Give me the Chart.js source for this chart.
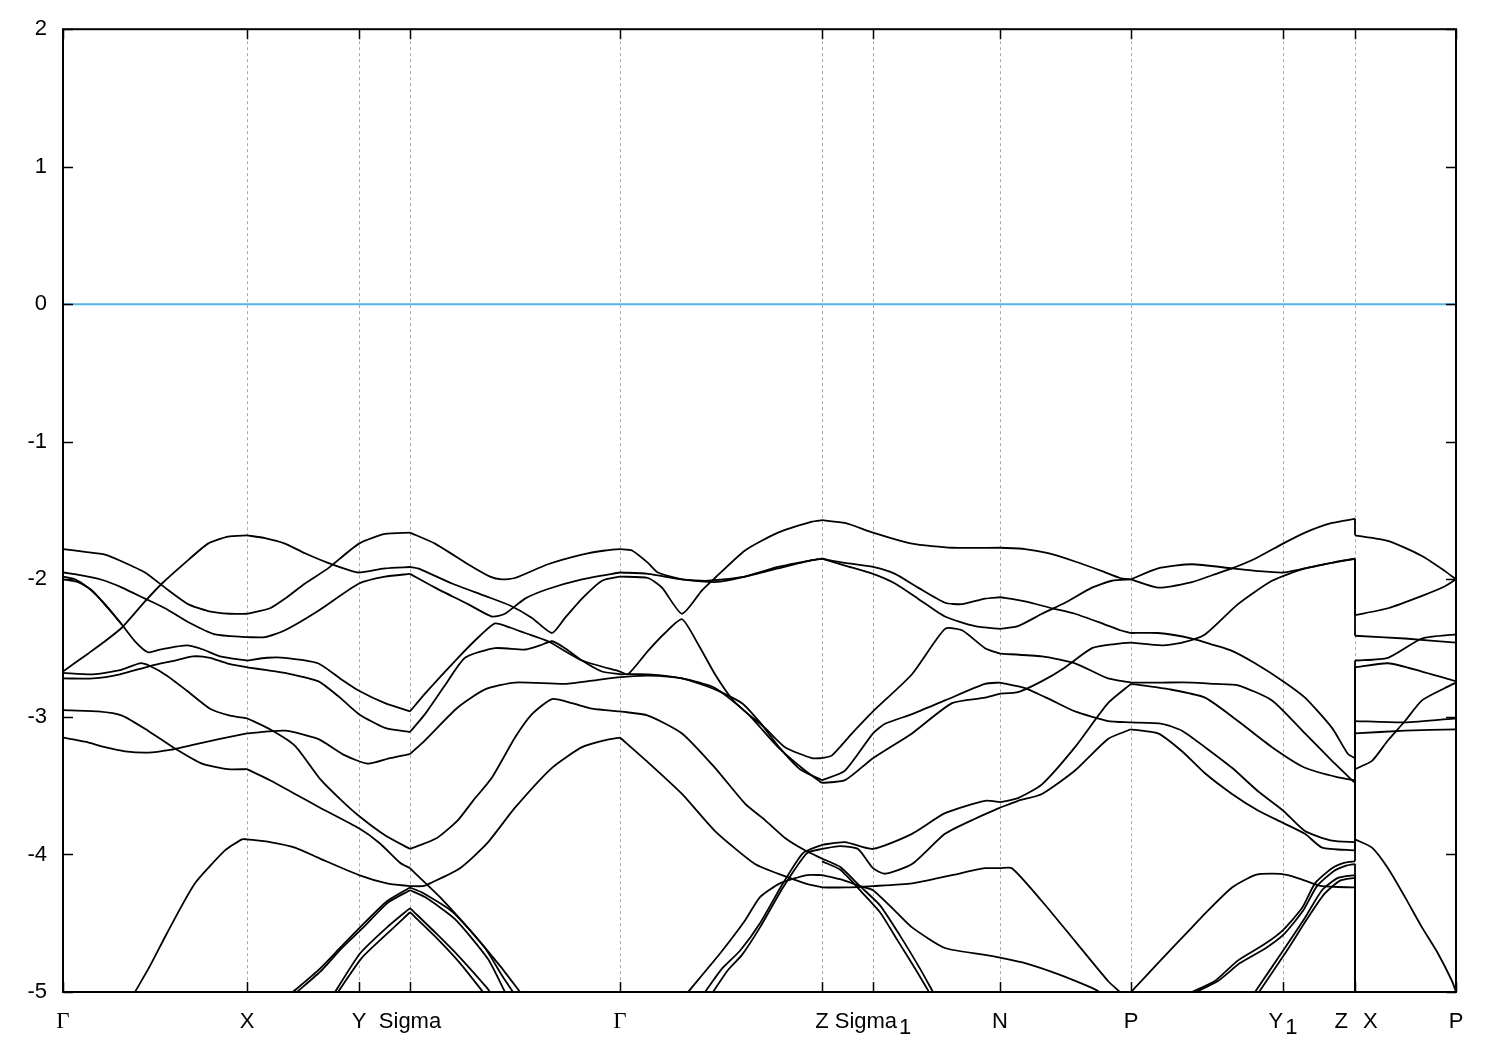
<!DOCTYPE html>
<html>
<head>
<meta charset="utf-8">
<script src="https://cdn.jsdelivr.net/npm/chart.js@4.4.0/dist/chart.umd.min.js"></script>
<style>
  html, body { margin: 0; padding: 0; background: #fff; }
  canvas { display: block; }
</style>
</head>
<body>
<canvas id="bands" width="1500" height="1050"></canvas>
<script>
// k-path (distance along the path) and its high-symmetry labels
const kPos = [0, 184, 296, 347, 557, 759, 810, 937, 1068, 1220, 1292, 1393];
const kLabels = ["Γ", "X", "Y", "Sigma", "Γ", "Z", "Sigma_1", "N", "P", "Y_1", "Z|X", "P"];
const yTicks = [2, 1, 0, -1, -2, -3, -4, -5];
const fermiLevel = 0;

// bands, one list per path segment, points are [k, E (eV)]
const gammaX = [
  [[0,-1.78],[22,-1.80],[42,-1.82],[59,-1.87],[82,-1.95],[102,-2.06],[125,-2.18],[145,-2.23],[167,-2.25],[184,-2.25]],
  [[0,-2.67],[25,-2.54],[42,-2.45],[59,-2.35],[82,-2.16],[99,-2.03],[122,-1.88],[145,-1.74],[165,-1.69],[184,-1.68]],
  [[0,-1.95],[25,-1.98],[42,-2.01],[59,-2.06],[82,-2.14],[102,-2.21],[125,-2.31],[152,-2.40],[184,-2.42]],
  [[0,-1.98],[12,-2.00],[25,-2.06],[42,-2.18],[59,-2.33],[72,-2.45],[85,-2.53],[97,-2.51],[124,-2.48],[140,-2.51],[157,-2.56],[184,-2.59]],
  [[0,-2.00],[15,-2.02],[29,-2.08],[45,-2.21],[59,-2.33]],
  [[0,-2.68],[30,-2.69],[57,-2.66],[77,-2.61],[87,-2.63],[104,-2.70],[124,-2.81],[147,-2.94],[167,-2.99],[184,-3.01]],
  [[0,-2.72],[30,-2.72],[57,-2.69],[87,-2.63],[112,-2.59],[130,-2.56],[147,-2.57],[164,-2.61],[184,-2.64]],
  [[0,-2.95],[35,-2.96],[59,-2.99],[85,-3.10],[112,-3.23],[139,-3.34],[165,-3.38],[184,-3.38]],
  [[0,-3.15],[22,-3.18],[42,-3.22],[62,-3.25],[85,-3.26],[107,-3.24],[132,-3.20],[157,-3.16],[184,-3.12]],
  [[72,-5.0],[87,-4.81],[102,-4.60],[119,-4.37],[132,-4.21],[145,-4.10],[162,-3.97],[179,-3.89],[184,-3.89]]
];

const xSigma = [
  [[184,-2.25],[207,-2.21],[222,-2.14],[242,-2.03],[265,-1.92],[296,-1.74],[322,-1.67],[347,-1.66]],
  [[184,-1.68],[202,-1.70],[222,-1.74],[242,-1.81],[265,-1.88],[289,-1.94],[296,-1.95],[322,-1.92],[347,-1.91]],
  [[184,-2.42],[202,-2.42],[222,-2.37],[255,-2.23],[296,-2.03],[322,-1.98],[347,-1.96]],
  [[184,-2.59],[204,-2.57],[222,-2.57],[255,-2.61],[277,-2.72],[296,-2.81],[322,-2.90],[347,-2.96]],
  [[184,-2.64],[204,-2.66],[222,-2.68],[255,-2.74],[277,-2.86],[296,-2.98],[322,-3.08],[347,-3.11]],
  [[184,-3.12],[222,-3.10],[255,-3.16],[282,-3.28],[305,-3.34],[327,-3.30],[347,-3.27]],
  [[184,-3.01],[207,-3.09],[232,-3.21],[257,-3.45],[279,-3.61],[296,-3.72],[322,-3.86],[347,-3.96]],
  [[184,-3.38],[207,-3.46],[232,-3.56],[257,-3.66],[296,-3.81],[317,-3.92],[337,-4.06],[347,-4.10]],
  [[184,-3.89],[207,-3.91],[232,-3.95],[257,-4.03],[296,-4.15],[324,-4.21],[347,-4.23]],
  [[230,-5.0],[257,-4.83],[277,-4.68],[297,-4.53],[324,-4.34],[347,-4.24]],
  [[234,-5.0],[259,-4.84],[279,-4.68],[299,-4.54],[325,-4.35],[347,-4.26]],
  [[272,-5.0],[297,-4.72],[324,-4.53],[347,-4.39]],
  [[275,-5.0],[299,-4.75],[325,-4.57],[347,-4.42]]
];

const sigmaGamma = [
  [[347,-1.66],[372,-1.74],[405,-1.89],[427,-1.98],[439,-2.00],[452,-1.99],[485,-1.89],[519,-1.82],[542,-1.79],[557,-1.78]],
  [[347,-1.91],[355,-1.92],[389,-2.03],[422,-2.12],[447,-2.19],[469,-2.28],[489,-2.39],[502,-2.28],[519,-2.14],[539,-2.01],[557,-1.98]],
  [[347,-1.96],[372,-2.06],[405,-2.18],[429,-2.27],[442,-2.25],[462,-2.14],[485,-2.07],[519,-2.00],[557,-1.95]],
  [[347,-2.96],[362,-2.83],[395,-2.57],[417,-2.41],[432,-2.32],[447,-2.35],[462,-2.39],[485,-2.45],[519,-2.59],[557,-2.67]],
  [[347,-3.11],[362,-2.98],[382,-2.77],[402,-2.57],[432,-2.50],[462,-2.51],[477,-2.48],[489,-2.45],[502,-2.50],[519,-2.59],[539,-2.67],[557,-2.69]],
  [[347,-3.27],[362,-3.17],[395,-2.93],[422,-2.80],[452,-2.75],[502,-2.76],[535,-2.73],[557,-2.71]],
  [[347,-3.96],[374,-3.88],[395,-3.75],[410,-3.61],[429,-3.44],[452,-3.15],[469,-2.98],[489,-2.87],[509,-2.90],[529,-2.94],[557,-2.96]],
  [[347,-4.23],[360,-4.23],[367,-4.21],[397,-4.10],[424,-3.92],[452,-3.66],[489,-3.37],[519,-3.22],[542,-3.17],[557,-3.15]],
  [[347,-4.10],[357,-4.17],[377,-4.31],[407,-4.55],[437,-4.81],[457,-5.0]],
  [[347,-4.24],[360,-4.28],[390,-4.42],[422,-4.68],[439,-4.88],[450,-5.0]],
  [[347,-4.26],[362,-4.31],[392,-4.47],[425,-4.76],[442,-5.0]],
  [[347,-4.39],[374,-4.58],[397,-4.75],[424,-4.97],[427,-5.0]],
  [[347,-4.42],[374,-4.61],[397,-4.79],[420,-5.0]]
];

const gammaZ = [
  [[557,-1.98],[585,-1.99],[599,-2.06],[619,-2.25],[639,-2.08],[652,-1.99],[682,-1.79],[715,-1.66],[749,-1.58],[759,-1.57]],
  [[557,-1.78],[569,-1.79],[585,-1.88],[595,-1.95],[619,-2.00],[645,-2.01],[682,-1.98],[715,-1.92],[749,-1.86],[759,-1.85]],
  [[557,-1.95],[585,-1.96],[619,-2.00],[652,-2.02],[682,-1.98],[715,-1.91],[749,-1.86],[759,-1.85]],
  [[557,-2.67],[565,-2.69],[585,-2.52],[602,-2.39],[619,-2.29],[635,-2.47],[652,-2.69],[669,-2.87],[682,-2.96],[702,-3.08],[722,-3.22],[749,-3.30],[759,-3.30]],
  [[557,-2.69],[585,-2.69],[619,-2.72],[652,-2.80],[679,-2.90],[697,-3.04],[715,-3.21],[737,-3.38],[759,-3.46]],
  [[557,-2.71],[585,-2.70],[619,-2.72],[652,-2.79],[685,-2.98],[715,-3.22],[742,-3.39],[759,-3.48]],
  [[557,-2.96],[585,-2.99],[619,-3.12],[652,-3.37],[682,-3.63],[702,-3.75],[722,-3.88],[742,-3.97],[759,-4.03]],
  [[557,-3.15],[585,-3.33],[619,-3.56],[652,-3.83],[692,-4.07],[715,-4.14],[742,-4.21],[759,-4.24]],
  [[625,-5.0],[657,-4.72],[682,-4.48],[697,-4.31],[717,-4.21],[744,-4.15],[759,-4.15]],
  [[642,-5.0],[659,-4.83],[677,-4.70],[697,-4.50],[720,-4.21],[740,-3.99],[759,-3.93]],
  [[650,-5.0],[665,-4.84],[679,-4.73],[697,-4.53],[720,-4.24],[744,-3.99],[759,-3.96]]
];

const zN = [
  [[759,-1.57],[782,-1.59],[810,-1.66],[849,-1.74],[889,-1.77],[937,-1.77]],
  [[759,-1.85],[782,-1.88],[810,-1.91],[832,-1.96],[855,-2.06],[882,-2.17],[899,-2.18],[922,-2.14],[937,-2.13]],
  [[759,-1.85],[782,-1.90],[810,-1.96],[832,-2.03],[855,-2.14],[882,-2.27],[912,-2.34],[937,-2.36]],
  [[759,-3.30],[769,-3.28],[789,-3.12],[810,-2.96],[849,-2.69],[882,-2.36],[899,-2.37],[922,-2.50],[937,-2.54]],
  [[759,-3.46],[782,-3.39],[810,-3.12],[822,-3.05],[849,-2.98],[882,-2.88],[922,-2.76],[937,-2.75]],
  [[759,-3.48],[782,-3.46],[810,-3.30],[849,-3.12],[889,-2.90],[922,-2.86],[937,-2.83]],
  [[759,-3.93],[782,-3.91],[810,-3.96],[849,-3.85],[882,-3.70],[922,-3.61],[937,-3.62]],
  [[759,-3.96],[777,-3.94],[795,-3.96],[810,-4.10],[822,-4.14],[849,-4.07],[882,-3.85],[912,-3.74],[937,-3.66]],
  [[759,-4.03],[777,-4.09],[797,-4.23],[817,-4.37],[837,-4.59],[857,-4.83],[870,-5.0]],
  [[759,-4.05],[777,-4.11],[797,-4.26],[817,-4.42],[835,-4.63],[853,-4.84],[866,-5.0]],
  [[759,-4.15],[777,-4.18],[797,-4.23],[810,-4.26],[832,-4.41],[849,-4.53],[882,-4.68],[922,-4.73],[937,-4.75]],
  [[759,-4.24],[782,-4.24],[810,-4.23],[849,-4.21],[889,-4.15],[922,-4.10],[937,-4.10]]
];

const nP = [
  [[937,-1.77],[962,-1.78],[985,-1.81],[1012,-1.87],[1039,-1.94],[1057,-1.99],[1068,-2.00]],
  [[937,-2.13],[962,-2.16],[989,-2.21],[1012,-2.25],[1039,-2.32],[1057,-2.37],[1068,-2.39]],
  [[937,-2.36],[955,-2.34],[979,-2.25],[1002,-2.17],[1029,-2.06],[1049,-2.01],[1068,-2.00]],
  [[937,-2.54],[979,-2.56],[1012,-2.61],[1045,-2.72],[1068,-2.75]],
  [[937,-2.75],[962,-2.79],[989,-2.88],[1012,-2.96],[1045,-3.03],[1068,-3.04]],
  [[937,-2.83],[955,-2.82],[979,-2.74],[1002,-2.64],[1029,-2.50],[1052,-2.47],[1068,-2.46]],
  [[937,-3.62],[955,-3.59],[979,-3.49],[1012,-3.22],[1045,-2.90],[1068,-2.76]],
  [[937,-3.66],[955,-3.61],[979,-3.56],[1012,-3.39],[1045,-3.16],[1068,-3.09]],
  [[937,-4.75],[962,-4.79],[995,-4.87],[1029,-4.97],[1037,-5.0]],
  [[937,-4.10],[949,-4.10],[979,-4.34],[1012,-4.63],[1045,-4.92],[1057,-5.0]]
];

// P -> Y1 -> Z, then the path jumps to X
const pY1Z = [
  [[1068,-2.00],[1095,-2.06],[1129,-2.02],[1149,-1.97],[1169,-1.92],[1192,-1.85],[1220,-1.74],[1242,-1.66],[1269,-1.59],[1292,-1.56]],
  [[1068,-2.00],[1095,-1.92],[1129,-1.89],[1169,-1.92],[1195,-1.94],[1220,-1.95],[1242,-1.92],[1262,-1.89],[1292,-1.85]],
  [[1068,-2.46],[1099,-2.48],[1119,-2.46],[1142,-2.40],[1175,-2.18],[1209,-2.01],[1242,-1.92],[1275,-1.87],[1292,-1.85]],
  [[1068,-2.39],[1095,-2.39],[1129,-2.43],[1152,-2.48],[1169,-2.52],[1192,-2.61],[1220,-2.74],[1242,-2.86],[1269,-3.08],[1285,-3.27],[1292,-3.30]],
  [[1068,-2.76],[1107,-2.80],[1142,-2.86],[1175,-3.03],[1209,-3.22],[1242,-3.37],[1275,-3.44],[1292,-3.46]],
  [[1068,-2.75],[1099,-2.75],[1129,-2.75],[1152,-2.76],[1175,-2.77],[1209,-2.88],[1242,-3.12],[1269,-3.32],[1292,-3.48]],
  [[1068,-3.04],[1099,-3.05],[1119,-3.10],[1142,-3.22],[1169,-3.37],[1195,-3.54],[1220,-3.68],[1242,-3.83],[1269,-3.90],[1292,-3.91]],
  [[1068,-3.09],[1095,-3.12],[1119,-3.25],[1142,-3.41],[1169,-3.56],[1195,-3.68],[1220,-3.77],[1242,-3.85],[1259,-3.95],[1292,-3.97]],
  [[1129,-5.0],[1152,-4.92],[1175,-4.77],[1202,-4.65],[1220,-4.55],[1239,-4.39],[1252,-4.21],[1269,-4.10],[1282,-4.06],[1292,-4.05]],
  [[1133,-5.0],[1155,-4.92],[1177,-4.79],[1203,-4.68],[1221,-4.58],[1240,-4.41],[1254,-4.23],[1271,-4.12],[1284,-4.08],[1292,-4.07]],
  [[1192,-5.0],[1220,-4.70],[1242,-4.46],[1259,-4.26],[1275,-4.17],[1292,-4.15]],
  [[1196,-5.0],[1223,-4.71],[1244,-4.47],[1261,-4.29],[1277,-4.19],[1292,-4.17]],
  [[1068,-5.0],[1095,-4.79],[1129,-4.53],[1142,-4.43],[1169,-4.24],[1192,-4.15],[1209,-4.14],[1225,-4.15],[1242,-4.19],[1259,-4.23],[1292,-4.24]]
];

const xP = [
  [[1292,-1.68],[1325,-1.72],[1359,-1.83],[1382,-1.94],[1393,-2.00]],
  [[1292,-2.26],[1325,-2.21],[1359,-2.12],[1382,-2.05],[1393,-2.00]],
  [[1292,-2.41],[1342,-2.43],[1393,-2.46]],
  [[1292,-2.59],[1325,-2.57],[1359,-2.43],[1393,-2.40]],
  [[1292,-2.64],[1325,-2.61],[1359,-2.67],[1393,-2.74]],
  [[1292,-3.38],[1309,-3.32],[1325,-3.17],[1342,-3.03],[1359,-2.88],[1382,-2.79],[1393,-2.75]],
  [[1292,-3.03],[1342,-3.04],[1393,-3.01]],
  [[1292,-3.12],[1342,-3.10],[1393,-3.09]],
  [[1292,-3.89],[1309,-3.95],[1325,-4.10],[1342,-4.31],[1359,-4.53],[1375,-4.72],[1389,-4.92],[1393,-5.0]]
];

const yMin = -5, yMax = 2;

//BUILD DATASETS
function bandSet(points, tension) {
  return {
    data: points.map(p => ({ x: p[0], y: p[1] })),
    showLine: true,
    borderColor: "#000",
    borderWidth: 1.8,
    pointRadius: 0,
    tension: tension,
  };
}

const curves = [].concat(gammaX, xSigma, sigmaGamma, gammaZ, zN, nP, pY1Z, xP);
const datasets = curves.map(c => bandSet(c, 0.2));

// band n at Z joins band n at X (both sorted from the top)
const kJump = kPos[10];
const zEnds = pY1Z.map(c => c[c.length - 1][1]).sort((a, b) => b - a);
const xStarts = xP.map(c => c[0][1]).sort((a, b) => b - a);
zEnds.forEach((e, i) => {
  const other = i < xStarts.length ? xStarts[i] : yMin - 0.5;
  datasets.push(bandSet([[kJump, e], [kJump, other]], 0));
});

datasets.push({
  data: [{ x: kPos[0], y: fermiLevel }, { x: kPos[kPos.length - 1], y: fermiLevel }],
  showLine: true,
  borderColor: "#56b4e9",
  borderWidth: 2,
  pointRadius: 0,
});

//FRAME, INNER TICKS AND K-POINT LABELS
const framePlugin = {
  id: "frame",
  afterDatasetsDraw(chart) {
    const { ctx, chartArea: a, scales } = chart;
    const xs = scales.x, ys = scales.y;
    ctx.save();
    ctx.strokeStyle = "#000";
    ctx.lineWidth = 2;
    ctx.strokeRect(a.left, a.top, a.right - a.left, a.bottom - a.top);

    ctx.lineWidth = 1.5;
    ctx.beginPath();
    yTicks.forEach(v => {
      const py = Math.round(ys.getPixelForValue(v)) + 0.5;
      ctx.moveTo(a.left, py); ctx.lineTo(a.left + 10, py);
      ctx.moveTo(a.right, py); ctx.lineTo(a.right - 10, py);
    });
    kPos.forEach(v => {
      const px = Math.round(xs.getPixelForValue(v)) + 0.5;
      ctx.moveTo(px, a.bottom); ctx.lineTo(px, a.bottom - 10);
      ctx.moveTo(px, a.top); ctx.lineTo(px, a.top + 10);
    });
    ctx.stroke();

    const base = a.bottom + 36;
    const sans = '22px "Liberation Sans", Arial, sans-serif';
    ctx.fillStyle = "#000";
    ctx.textBaseline = "alphabetic";
    kLabels.forEach((lab, i) => {
      const px = xs.getPixelForValue(kPos[i]);
      if (lab.indexOf("|") >= 0) {
        const parts = lab.split("|");
        ctx.font = sans;
        ctx.textAlign = "right";
        ctx.fillText(parts[0], px - 7, base);
        ctx.textAlign = "left";
        ctx.fillText(parts[1], px + 8, base);
        return;
      }
      const parts = lab.split("_");
      ctx.font = lab === "Γ" ? '23px "Liberation Serif", "Times New Roman", serif' : sans;
      const w0 = ctx.measureText(parts[0]).width;
      const w1 = parts[1] ? ctx.measureText(parts[1]).width + 2 : 0;
      let x0 = px - (w0 + w1) / 2;
      ctx.textAlign = "left";
      ctx.fillText(parts[0], x0, base);
      if (parts[1]) ctx.fillText(parts[1], x0 + w0 + 2, base + 6);
    });
    ctx.restore();
  },
};

const chart = new Chart(document.getElementById("bands"), {
  type: "scatter",
  data: { datasets: datasets },
  options: {
    responsive: false,
    animation: false,
    devicePixelRatio: 1,
    layout: { padding: { top: 28, right: 44, left: 0, bottom: 0 } },
    plugins: { legend: { display: false }, tooltip: { enabled: false } },
    scales: {
      x: {
        type: "linear",
        min: kPos[0],
        max: kPos[kPos.length - 1],
        afterBuildTicks: s => { s.ticks = kPos.map(v => ({ value: v })); },
        afterFit: s => { s.height = 58; },
        ticks: { display: false },
        grid: {
          drawTicks: false,
          lineWidth: 1,
          color: c => (c.index === 0 || c.index === kPos.length - 1) ? "rgba(0,0,0,0)" : "#a8a8a8",
        },
        border: { display: false, dash: [3, 3] },
      },
      y: {
        min: yMin,
        max: yMax,
        afterBuildTicks: s => { s.ticks = yTicks.map(v => ({ value: v })); },
        afterFit: s => { s.width = 63; },
        ticks: {
          autoSkip: false,
          padding: 16,
          color: "#000",
          font: { family: '"Liberation Sans", Arial, sans-serif', size: 22 },
          callback: v => String(v),
        },
        grid: { display: false, drawTicks: false },
        border: { display: false },
      },
    },
  },
  plugins: [framePlugin],
});
</script>
</body>
</html>
